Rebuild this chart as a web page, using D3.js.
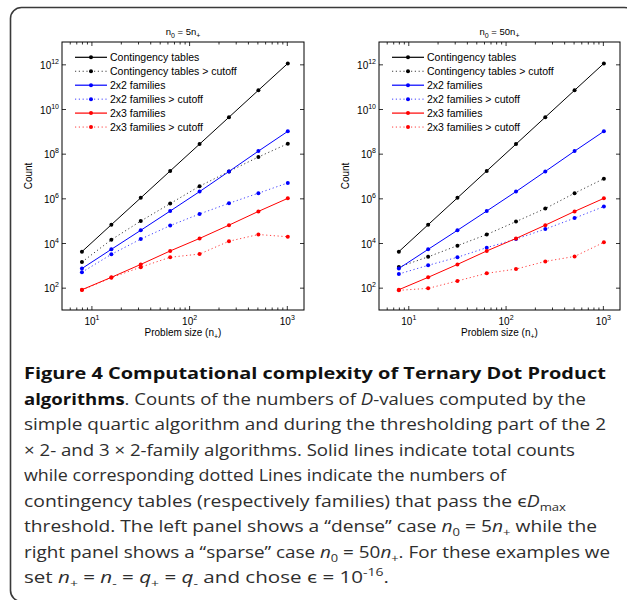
<!DOCTYPE html>
<html><head><meta charset="utf-8">
<script src="https://cdn.jsdelivr.net/npm/d3@7"></script>
<style>body{margin:0;background:#fff} svg{display:block}</style>
</head><body><svg id="c" width="627" height="600"></svg>
<script>
// ---------- data ----------
const problemSizes = [8, 16, 32, 64, 128, 256, 512, 1024];

// dense case n0 = 5 n+
const denseTables      = [4.1e3, 6.6e4, 1.05e6, 1.68e7, 2.68e8, 4.3e9, 6.9e10, 1.1e12];
const denseTablesCut   = [1.4e3, 1.4e4, 9.6e4, 5.8e5, 3.5e6, 1.6e7, 7.1e7, 2.8e8];
const dense2x2         = [720, 5.2e3, 3.7e4, 2.7e5, 2.0e6, 1.6e7, 1.3e8, 1.0e9];
const dense2x2Cut      = [490, 3.1e3, 1.5e4, 6.0e4, 2.0e5, 6.0e5, 1.7e6, 4.9e6];
const dense2x3         = [81, 290, 1.1e3, 4.4e3, 1.6e4, 6.3e4, 2.6e5, 1.0e6];
const dense2x3Cut      = [78, 280, 830, 2.3e3, 3.2e3, 1.2e4, 2.4e4, 1.9e4];

// sparse case n0 = 50 n+
const sparseTables     = [4.1e3, 6.6e4, 1.05e6, 1.68e7, 2.68e8, 4.3e9, 6.9e10, 1.1e12];
const sparseTablesCut  = [840, 2.4e3, 7.6e3, 2.4e4, 9.1e4, 3.5e5, 1.7e6, 7.6e6];
const sparse2x2        = [720, 5.2e3, 3.7e4, 2.7e5, 2.0e6, 1.6e7, 1.3e8, 1.0e9];
const sparse2x2Cut     = [410, 1.0e3, 2.3e3, 6.2e3, 1.5e4, 4.2e4, 1.3e5, 4.3e5];
const sparse2x3        = [81, 290, 1.1e3, 4.4e3, 1.6e4, 6.3e4, 2.6e5, 1.0e6];
const sparse2x3Cut     = [76, 93, 200, 440, 680, 1.5e3, 2.5e3, 1.07e4];

const seriesNames  = ["Contingency tables", "Contingency tables > cutoff", "2x2 families",
                      "2x2 families > cutoff", "2x3 families", "2x3 families > cutoff"];
const seriesColors = ["#000000", "#000000", "#0000ff", "#0000ff", "#ff0000", "#ff0000"];
const seriesDotted = [false, true, false, true, false, true];

const panelMultipliers = ["5", "50"];
const xMajorTicks = [10, 100, 1000];
const xMinorTicks = [6, 7, 8, 9, 20, 30, 40, 50, 60, 70, 80, 90, 200, 300, 400, 500, 600, 700, 800, 900];
const yMajorTicks = [1e2, 1e4, 1e6, 1e8, 1e10, 1e12];
const xDomain = [5, 1500];
const yDomain = [10, 1e13];

const captionLines = [
  [{t:"Figure 4 Computational complexity of Ternary Dot Product", b:1}],
  [{t:"algorithms", b:1}, {t:". Counts of the numbers of "}, {t:"D", i:1}, {t:"-values computed by the"}],
  [{t:"simple quartic algorithm and during the thresholding part of the 2"}],
  [{t:"\u00d7 2- and 3 \u00d7 2-family algorithms. Solid lines indicate total counts"}],
  [{t:"while corresponding dotted Lines indicate the numbers of"}],
  [{t:"contingency tables (respectively families) that pass the \u03f5"}, {t:"D", i:1}, {t:"max", sub:1}],
  [{t:"threshold. The left panel shows a \u201cdense\u201d case "}, {t:"n", i:1}, {t:"0", sub:1}, {t:" = 5"}, {t:"n", i:1}, {t:"+", sub:1}, {t:" while the"}],
  [{t:"right panel shows a \u201csparse\u201d case "}, {t:"n", i:1}, {t:"0", sub:1}, {t:" = 50"}, {t:"n", i:1}, {t:"+", sub:1}, {t:". For these examples we"}],
  [{t:"set "}, {t:"n", i:1}, {t:"+", sub:1}, {t:" = "}, {t:"n", i:1}, {t:"-", sub:1}, {t:" = "}, {t:"q", i:1}, {t:"+", sub:1}, {t:" = "}, {t:"q", i:1}, {t:"-", sub:1}, {t:" and chose \u03f5 = 10"}, {t:"-16", sup:1}, {t:"."}]
];
// where each caption line ends in the figure (px)
const captionLineEnds = [606, 586, 606, 575, 506, 566, 597, 610, 389];

// ---------- drawing ----------
const svg = d3.select("#c");
const AX = "'Liberation Sans', Arial, sans-serif";

svg.append("rect").attr("x", 10.5).attr("y", 7.5).attr("width", 625).attr("height", 594)
   .attr("rx", 11).attr("fill", "none").attr("stroke", "#3a3a3a").attr("stroke-width", 1.6);

const panels = [
  {x0: 62, x1: 304, sets: [denseTables, denseTablesCut, dense2x2, dense2x2Cut, dense2x3, dense2x3Cut]},
  {x0: 379, x1: 620, sets: [sparseTables, sparseTablesCut, sparse2x2, sparse2x2Cut, sparse2x3, sparse2x3Cut]}
];
const plotTop = 42, plotBottom = 310;

function supLabel(sel, exp) {
  sel.text(null);
  sel.append("tspan").text("10");
  sel.append("tspan").attr("font-size", 7).attr("dy", -5).text(exp);
}

panels.forEach((p, pi) => {
  const g = svg.append("g");
  const x = d3.scaleLog().domain(xDomain).range([p.x0, p.x1]);
  const y = d3.scaleLog().domain(yDomain).range([plotBottom, plotTop]);

  const fmtExp = v => String(Math.round(Math.log10(v)));
  const xb = g.append("g").attr("transform", `translate(0,${plotBottom})`)
    .call(d3.axisBottom(x).tickValues(xMajorTicks).tickSizeInner(-4).tickSizeOuter(0).tickPadding(8).tickFormat(fmtExp));
  xb.selectAll(".tick text").each(function(d){ supLabel(d3.select(this), fmtExp(d)); })
    .attr("font-family", AX).attr("font-size", 10).attr("fill", "#000");
  g.append("g").attr("transform", `translate(0,${plotBottom})`)
    .call(d3.axisBottom(x).tickValues(xMinorTicks).tickSizeInner(-2.5).tickSizeOuter(0).tickFormat(""));
  g.append("g").attr("transform", `translate(0,${plotTop})`)
    .call(d3.axisTop(x).tickValues(xMajorTicks).tickSizeInner(-4).tickSizeOuter(0).tickFormat(""));
  g.append("g").attr("transform", `translate(0,${plotTop})`)
    .call(d3.axisTop(x).tickValues(xMinorTicks).tickSizeInner(-2.5).tickSizeOuter(0).tickFormat(""));
  const yl = g.append("g").attr("transform", `translate(${p.x0},0)`)
    .call(d3.axisLeft(y).tickValues(yMajorTicks).tickSizeInner(-4).tickSizeOuter(0).tickPadding(3).tickFormat(fmtExp));
  yl.selectAll(".tick text").each(function(d){ supLabel(d3.select(this), fmtExp(d)); })
    .attr("font-family", AX).attr("font-size", 10).attr("fill", "#000").attr("dy", "0.4em");
  g.append("g").attr("transform", `translate(${p.x1},0)`)
    .call(d3.axisRight(y).tickValues(yMajorTicks).tickSizeInner(-4).tickSizeOuter(0).tickFormat(""));
  g.selectAll(".domain").remove();
  g.selectAll(".tick line").attr("stroke", "#000").attr("stroke-width", 0.8);

  g.append("rect").attr("x", p.x0).attr("y", plotTop).attr("width", p.x1 - p.x0).attr("height", plotBottom - plotTop)
    .attr("fill", "none").attr("stroke", "#000").attr("stroke-width", 1);

  const line = d3.line().x((d, i) => x(problemSizes[i])).y(d => y(d));
  p.sets.forEach((vals, si) => {
    g.append("path").attr("d", line(vals)).attr("fill", "none")
      .attr("stroke", seriesColors[si]).attr("stroke-width", 1)
      .attr("stroke-dasharray", seriesDotted[si] ? "1.2,2.6" : null)
      .attr("opacity", seriesDotted[si] ? 0.75 : 1);
    g.selectAll(null).data(vals).join("circle")
      .attr("cx", (d, i) => x(problemSizes[i])).attr("cy", d => y(d)).attr("r", 2)
      .attr("fill", seriesColors[si]);
  });

  const lx = p.x0 + 13, ly = 57.3, lh = 13.95;
  seriesNames.forEach((name, si) => {
    const yy = ly + si * lh;
    g.append("line").attr("x1", lx).attr("x2", lx + 32).attr("y1", yy).attr("y2", yy)
      .attr("stroke", seriesColors[si]).attr("stroke-width", seriesDotted[si] ? 1 : 1.2)
      .attr("stroke-dasharray", seriesDotted[si] ? "1.2,2.6" : null)
      .attr("opacity", seriesDotted[si] ? 0.75 : 1);
    g.append("circle").attr("cx", lx + 16).attr("cy", yy).attr("r", 2).attr("fill", seriesColors[si]);
    g.append("text").attr("x", lx + 35).attr("y", yy + 3.7).attr("font-family", AX)
      .attr("font-size", 10.5).attr("fill", "#000").text(name);
  });

  const cx = (p.x0 + p.x1) / 2;
  const t = g.append("text").attr("x", cx).attr("y", 35).attr("text-anchor", "middle")
    .attr("font-family", AX).attr("font-size", 9.5).attr("fill", "#000");
  t.append("tspan").text("n");
  t.append("tspan").attr("font-size", 7).attr("dy", 2.5).text("0");
  t.append("tspan").attr("dy", -2.5).text(" = " + panelMultipliers[pi] + "n");
  t.append("tspan").attr("font-size", 7).attr("dy", 2.5).text("+");

  const xl = g.append("text").attr("x", cx).attr("y", 336).attr("text-anchor", "middle")
    .attr("font-family", AX).attr("font-size", 10).attr("fill", "#000");
  xl.append("tspan").text("Problem size (n");
  xl.append("tspan").attr("font-size", 7).attr("dy", 2.5).text("+");
  xl.append("tspan").attr("dy", -2.5).text(")");
  g.append("text").attr("transform", `translate(${p.x0 - 30},${(plotTop + plotBottom) / 2}) rotate(-90)`)
    .attr("text-anchor", "middle").attr("font-family", AX).attr("font-size", 10)
    .attr("fill", "#000").text("Count");
});

// caption
const CF = "'Open Sans', 'Noto Sans', sans-serif";
const capSize = 16.8, capX = 24, capY0 = 379, capPitch = 25.5;
const capG = svg.append("g").attr("font-family", CF).attr("fill", "#2e2e2e");
captionLines.forEach((segs, li) => {
  const txt = capG.append("text").attr("x", capX).attr("y", capY0 + li * capPitch).attr("font-size", capSize);
  let shift = 0;
  segs.forEach(s => {
    const ts = txt.append("tspan").text(s.t);
    const target = s.sub ? 4 : (s.sup ? -7 : 0);
    if (target !== shift) { ts.attr("dy", target - shift); shift = target; }
    if (s.sub || s.sup) ts.attr("font-size", capSize * 0.68);
    if (s.b) ts.attr("font-weight", "bold").attr("fill", "#111");
    if (s.i) ts.attr("font-style", "italic");
  });
  txt.attr("textLength", captionLineEnds[li] - capX).attr("lengthAdjust", "spacingAndGlyphs");
});
</script></body></html>
